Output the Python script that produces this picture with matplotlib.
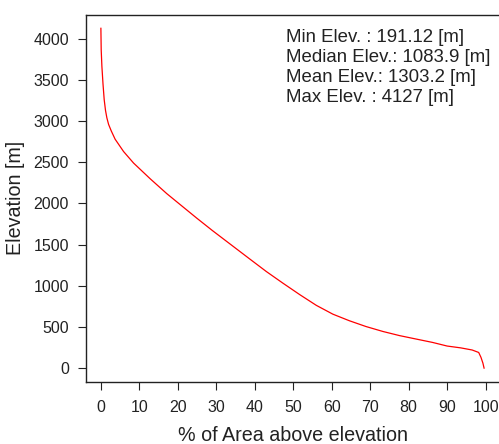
import matplotlib
matplotlib.use("Agg")
import matplotlib.pyplot as plt

plt.rcParams['font.family'] = ['Liberation Sans', 'DejaVu Sans']

pct_area = [0, 0.08, 0.26, 0.55, 0.86, 1.2, 1.55, 2.0, 2.7, 3.7, 5.9, 8.5, 12.8, 17.1,
            20.5, 24.9, 29.0, 33.5, 38.7, 43.0, 47.3, 51.7, 56.0, 60.3, 64.6, 68.9,
            73.3, 77.6, 81.0, 86.2, 90.0, 93.5, 96.5, 98.2, 98.8, 99.3, 99.6]
elevation = [4127, 3866, 3665, 3450, 3260, 3130, 3040, 2960, 2880, 2780, 2630, 2490, 2300, 2120,
             1990, 1822, 1670, 1510, 1325, 1173, 1032, 892, 762, 655, 575, 505,
             445, 395, 362, 312, 268, 246, 220, 190, 130, 60, 0]
x_ticks = [0, 10, 20, 30, 40, 50, 60, 70, 80, 90, 100]
y_ticks = [0, 500, 1000, 1500, 2000, 2500, 3000, 3500, 4000]
stats_text = ["Min Elev. : 191.12 [m]", "Median Elev.: 1083.9 [m]",
              "Mean Elev.: 1303.2 [m]", "Max Elev. : 4127 [m]"]

W, H = 499, 444
fig = plt.figure(figsize=(W / 100, H / 100), dpi=100)
ax = fig.add_axes([85.5 / W, 1 - 381.7 / H, (501 - 85.5) / W, (381.7 - 14.7) / H])
ax.plot(pct_area, elevation, color='red', lw=0.9)
ax.set_xlim(-4, 104)
ax.set_ylim(-165.08, 4292.08)
ax.set_xticks(x_ticks)
ax.set_yticks(y_ticks)
ax.tick_params(axis='both', direction='out', length=6, width=0.8, labelsize=11.5, colors='#222222')
ax.tick_params(axis='x', pad=7)
ax.tick_params(axis='y', pad=6)
for s in ax.spines.values():
    s.set_linewidth(1.0)
    s.set_color('#222222')
ax.set_xlabel('% of Area above elevation', fontsize=14.2, labelpad=8, color='#222222')
ax.set_ylabel('Elevation [m]', fontsize=14.2, labelpad=6, color='#222222')

for i, t in enumerate(stats_text):
    fig.text(286 / W, 1 - (29 + i * 20) / H, t, fontsize=13.4, va='top', ha='left', color='#222222')

fig.savefig('out.png', dpi=100)
